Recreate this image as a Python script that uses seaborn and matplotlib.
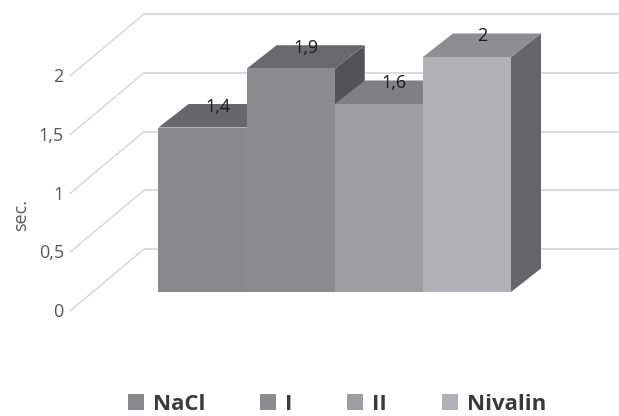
import matplotlib
matplotlib.use("Agg")
import matplotlib.pyplot as plt
from matplotlib.patches import Polygon
from matplotlib.transforms import ScaledTranslation
import seaborn as sns

categories = ["NaCl", "I", "II", "Nivalin"]
values = [1.4, 1.9, 1.6, 2.0]
tick_values = [0, 0.5, 1, 1.5, 2]
tick_labels = ["0", "0,5", "1", "1,5", "2"]
value_labels = ["1,4", "1,9", "1,6", "2"]
front_colors = ["#88898b", "#8b8c8e", "#9d9ea0", "#b1b2b5"]
top_colors = ["#66676a", "#68696b", "#7f8082", "#8d8e90"]
side_colors = ["#4f4f52", "#525254", "#5c5c5f", "#656668"]

W, H = 619, 416
sns.set_theme(style="white")
plt.rcParams["font.family"] = ["Open Sans", "DejaVu Sans"]

fig = plt.figure(figsize=(W / 100, H / 100), dpi=100)
LEFT = 68
ax = fig.add_axes([LEFT / W, 0, (W - LEFT) / W, 1])

PX_X = 88.125   # pixels per category
PX_Y = 117.5    # pixels per unit
BASE = 292      # pixel row of value 0 on the bar fronts
DX = 30 / PX_X  # depth offset in data units
DY = 23.5 / PX_Y


def dx(px):
    return -0.5 + (px - 158.5) / PX_X


def dy(px):
    return (BASE - px) / PX_Y


palette = dict(zip(categories, front_colors))
sns.barplot(x=categories, y=values, hue=categories, palette=palette, dodge=False,
            width=1.0, linewidth=0, saturation=1, legend=True, ax=ax, zorder=10)
ax.set_xlim(dx(LEFT), dx(W))
ax.set_ylim(dy(H), dy(0))

# back wall grid and left wall diagonals
grid = "#d8d9da"
for t in tick_values:
    back = dy(249) + t
    front = dy(311) + t
    ax.plot([dx(144), dx(W)], [back, back], color=grid, lw=1.3, zorder=1, solid_capstyle="butt")
    ax.plot([dx(70), dx(144)], [front, back], color=grid, lw=1.1, zorder=1)

# depth faces of each bar
for i, v in enumerate(values):
    l, r = i - 0.5, i + 0.5
    ax.add_patch(Polygon([(r, 0), (r + DX, DY), (r + DX, v + DY), (r, v)],
                         closed=True, fc=side_colors[i], ec="none", zorder=3 + i))
    ax.add_patch(Polygon([(l, v), (r, v), (r + DX, v + DY), (l + DX, v + DY)],
                         closed=True, fc=top_colors[i], ec="none", zorder=3 + i))
    ax.text(i + 15 / PX_X, v + 21 / PX_Y, value_labels[i], ha="center", va="center",
            fontsize=13, color="#1c1c1e", zorder=12)

ax.set_xticks([])
ax.set_yticks(tick_values)
ax.set_yticklabels(tick_labels, fontsize=13, color="#58595b")
ax.tick_params(axis="y", length=0, pad=3)
shift = ScaledTranslation(0, -18 / 100, fig.dpi_scale_trans)
for lab in ax.get_yticklabels():
    lab.set_transform(lab.get_transform() + shift)
ax.set_ylabel("sec.", fontsize=13, color="#58595b")
ax.yaxis.set_label_coords(30 / W, (H - 215) / H, transform=fig.transFigure)
for s in ax.spines.values():
    s.set_visible(False)
ax.patch.set_alpha(0)

sns.move_legend(ax, "center", bbox_to_anchor=(337 / W, (H - 404) / H),
                bbox_transform=fig.transFigure, ncol=4, frameon=False, title=None,
                columnspacing=2.45, handlelength=0.72, handleheight=0.72,
                handletextpad=0.42, borderpad=0,
                prop={"size": 16, "weight": "bold", "family": "Open Sans"},
                labelcolor="#3a3a3c")
fig.savefig("out.png", dpi=100)
